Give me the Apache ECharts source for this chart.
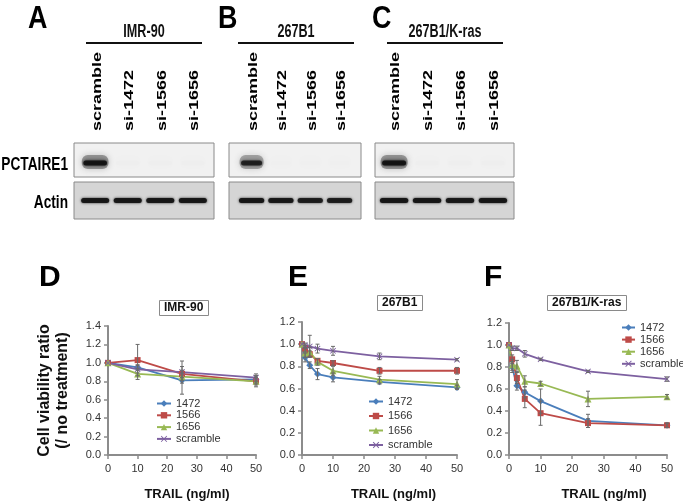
<!DOCTYPE html>
<html><head><meta charset="utf-8">
<script src="https://cdn.jsdelivr.net/npm/echarts@6/dist/echarts.min.js"></script>
<style>html,body{margin:0;padding:0;background:#fff}#c{width:683px;height:501px}</style>
</head><body><div id="c"></div>
<script>
// ---------- Western blot data ----------
const lanes = ['scramble', 'si-1472', 'si-1566', 'si-1656'];
const blotCellLines = ['IMR-90', '267B1', '267B1/K-ras'];
const blotRows = ['PCTAIRE1', 'Actin'];
const pctaireA = [1.00, 0.008, 0.008, 0.008];
const pctaireB = [0.85, 0.005, 0.006, 0.006];
const pctaireC = [1.00, 0.008, 0.008, 0.008];
const actinA = [0.95, 0.95, 0.95, 0.95];
const actinB = [0.95, 0.92, 0.88, 0.88];
const actinC = [0.95, 0.95, 0.93, 0.95];

// ---------- Viability data ----------
const seriesNames = ['1472', '1566', '1656', 'scramble'];
const chartTitles = ['IMR-90', '267B1', '267B1/K-ras'];
const xTicks = [0, 10, 20, 30, 40, 50];
const doseD = [0, 10, 25, 50];
const imr1472 = [1.00, 0.95, 0.81, 0.82];
const imr1566 = [1.00, 1.03, 0.88, 0.80];
const imr1656 = [1.00, 0.88, 0.85, 0.80];
const imrScr  = [1.00, 0.93, 0.90, 0.84];
const imr1472Err = [0, 0.03, 0.15, 0.04];
const imr1566Err = [0, 0.17, 0.04, 0.06];
const imr1656Err = [0, 0.06, 0.04, 0.04];
const imrScrErr  = [0, 0.04, 0.12, 0.04];

const doseEF = [0, 1, 2.5, 5, 10, 25, 50];
const b1472 = [1.00, 0.88, 0.81, 0.73, 0.70, 0.66, 0.61];
const b1566 = [1.00, 0.96, 0.91, 0.85, 0.83, 0.76, 0.76];
const b1656 = [1.00, 0.92, 0.93, 0.84, 0.76, 0.68, 0.64];
const bScr  = [1.00, 0.99, 0.98, 0.96, 0.94, 0.89, 0.86];
const b1472Err = [0, 0.04, 0.03, 0.05, 0.04, 0.02, 0.02];
const b1566Err = [0, 0.03, 0.03, 0.02, 0.02, 0.03, 0.03];
const b1656Err = [0, 0.04, 0.04, 0.03, 0.04, 0.03, 0.04];
const bScrErr  = [0, 0.02, 0.10, 0.04, 0.04, 0.03, 0.01];

const k1472 = [1.00, 0.80, 0.63, 0.57, 0.49, 0.31, 0.27];
const k1566 = [1.00, 0.87, 0.70, 0.51, 0.38, 0.29, 0.27];
const k1656 = [1.00, 0.82, 0.81, 0.67, 0.65, 0.51, 0.53];
const kScr  = [1.00, 0.97, 0.97, 0.92, 0.87, 0.76, 0.69];
const k1472Err = [0, 0.05, 0.04, 0.05, 0.11, 0.06, 0.02];
const k1566Err = [0, 0.04, 0.05, 0.08, 0.11, 0.04, 0.02];
const k1656Err = [0, 0.05, 0.05, 0.05, 0.02, 0.07, 0.02];
const kScrErr  = [0, 0.02, 0.02, 0.03, 0.01, 0.01, 0.02];

// ---------- styles / layout ----------
const FONT = '"Liberation Sans", Arial, Helvetica, sans-serif';
const X_PATH = 'path://M1,0L5,4L9,0L10,1L6,5L10,9L9,10L5,6L1,10L0,9L4,5L0,1Z';
const seriesStyle = {
  '1472': {color: '#4A7EBB', symbol: 'diamond', size: 7},
  '1566': {color: '#BE4B48', symbol: 'rect', size: 6},
  '1656': {color: '#98B954', symbol: 'triangle', size: 7},
  'scramble': {color: '#7D60A0', symbol: X_PATH, size: 6}
};

const blotPanels = [
  {letter: 'A', pct: pctaireA, act: actinA, left: 74, width: 140, min: -0.65, max: 3.65, titleX: 144, lineL: 86, lineR: 202, letterX: 28},
  {letter: 'B', pct: pctaireB, act: actinB, left: 229, width: 132, min: -0.77, max: 3.73, titleX: 296, lineL: 238, lineR: 354, letterX: 218},
  {letter: 'C', pct: pctaireC, act: actinC, left: 375, width: 139, min: -0.58, max: 3.64, titleX: 445, lineL: 387, lineR: 503, letterX: 372}
];

const chartPanels = [
  {letter: 'D', letterX: 39, grid: {left: 108, top: 326, width: 148, height: 129}, ymax: 1.4, dose: doseD,
   vals: [imr1472, imr1566, imr1656, imrScr], errs: [imr1472Err, imr1566Err, imr1656Err, imrScrErr],
   legend: {left: 156, top: 398, gap: 0.8, iw: 14}, titleBox: {left: 159, top: 300}, nameShift: 10},
  {letter: 'E', letterX: 288, grid: {left: 302, top: 322, width: 155, height: 133}, ymax: 1.2, dose: doseEF,
   vals: [b1472, b1566, b1656, bScr], errs: [b1472Err, b1566Err, b1656Err, bScrErr],
   legend: {left: 368, top: 396, gap: 3.5, iw: 14}, titleBox: {left: 377, top: 295}, nameShift: 28},
  {letter: 'F', letterX: 484, grid: {left: 509, top: 323, width: 158, height: 132}, ymax: 1.2, dose: doseEF,
   vals: [k1472, k1566, k1656, kScr], errs: [k1472Err, k1566Err, k1656Err, kScrErr],
   legend: {left: 621, top: 322, gap: 1.1, iw: 13}, titleBox: {left: 547, top: 295}, nameShift: 32}
];

function pctBand(params, api) {
  const a = api.value(2);
  const p = api.coord([api.value(0), 0]);
  const w = api.size([0.82, 0])[0];
  return {type: 'group', children: [
    {type: 'rect', shape: {x: p[0] - w / 2, y: p[1] - 5, width: w, height: 14, r: 6},
     style: {fill: 'rgba(60,60,60,' + (0.45 * a) + ')', shadowBlur: 6, shadowColor: 'rgba(60,60,60,' + (0.6 * a) + ')'}},
    {type: 'rect', shape: {x: p[0] - w / 2 + 1.5, y: p[1] + 0.5, width: w - 3, height: 5, r: 2.5},
     style: {fill: 'rgba(15,15,15,' + (0.9 * a) + ')', shadowBlur: 3, shadowColor: 'rgba(0,0,0,' + (0.8 * a) + ')'}}
  ]};
}
function actBand(params, api) {
  const a = api.value(2);
  const p = api.coord([api.value(0), 0]);
  const w = api.size([0.86, 0])[0];
  return {type: 'rect', shape: {x: p[0] - w / 2, y: p[1] - 2.5, width: w, height: 5, r: 2.5},
    style: {fill: 'rgba(20,20,20,' + a + ')', shadowBlur: 2.5, shadowColor: 'rgba(20,20,20,' + a + ')'}};
}
function errBar(params, api) {
  const x = api.value(0), y = api.value(1), e = api.value(2);
  if (!e) return null;
  const t = api.coord([x, y + e]), b = api.coord([x, y - e]);
  const st = {stroke: '#6a6a6a', lineWidth: 1};
  return {type: 'group', children: [
    {type: 'line', shape: {x1: t[0], y1: t[1], x2: b[0], y2: b[1]}, style: st},
    {type: 'line', shape: {x1: t[0] - 2, y1: t[1], x2: t[0] + 2, y2: t[1]}, style: st},
    {type: 'line', shape: {x1: b[0] - 2, y1: b[1], x2: b[0] + 2, y2: b[1]}, style: st}
  ]};
}

const grids = [], xAxes = [], yAxes = [], series = [], legends = [], titles = [];
blotPanels.forEach((p, k) => {
  [[p.pct, 143, 34, '#f1f1f1', pctBand], [p.act, 182, 37, '#d5d5d5', actBand]].forEach((row, r) => {
    const g = grids.length;
    grids.push({left: p.left, top: row[1], width: p.width, height: row[2], show: true,
      backgroundColor: row[3], borderColor: '#8a8a8a', borderWidth: 1, containLabel: false, outerBoundsMode: 'none'});
    xAxes.push({gridIndex: g, type: 'value', min: p.min, max: p.max, show: false});
    yAxes.push({gridIndex: g, type: 'category', data: [blotRows[r]], show: false});
    series.push({type: 'custom', xAxisIndex: g, yAxisIndex: g, silent: true, renderItem: row[4],
      data: row[0].map((a, i) => [i, 0, a]), z: 3});
  });
});

chartPanels.forEach((c, k) => {
  const g = grids.length;
  grids.push(Object.assign({containLabel: false, outerBoundsMode: 'none'}, c.grid));
  xAxes.push({gridIndex: g, type: 'value', min: xTicks[0], max: xTicks[xTicks.length - 1], interval: xTicks[1] - xTicks[0],
    axisLine: {show: true, lineStyle: {color: '#8c8c8c', width: 2}},
    axisTick: {show: true, length: 4, lineStyle: {color: '#8c8c8c', width: 1.5}},
    axisLabel: {fontSize: 11, color: '#333', margin: 8, fontFamily: FONT},
    splitLine: {show: false},
    name: 'TRAIL (ng/ml)', nameLocation: 'middle', nameGap: 33,
    nameTextStyle: {fontSize: 13, fontWeight: 'bold', color: '#111', fontFamily: FONT, padding: [0, 0, 0, c.nameShift]}});
  const yAx = {gridIndex: g, type: 'value', min: 0, max: c.ymax, interval: 0.2,
    axisLine: {show: true, lineStyle: {color: '#8c8c8c', width: 2}},
    axisTick: {show: true, length: 4, lineStyle: {color: '#8c8c8c', width: 1.5}},
    axisLabel: {fontSize: 11, color: '#333', margin: 7, fontFamily: FONT, formatter: v => v.toFixed(1)},
    splitLine: {show: false}};
  if (k === 0) {
    Object.assign(yAx, {name: 'Cell viability ratio\n(/ no treatment)', nameLocation: 'middle', nameGap: 36,
      nameTextStyle: {fontSize: 16, fontWeight: 'bold', lineHeight: 18, color: '#111', fontFamily: FONT}});
  }
  yAxes.push(yAx);
  seriesNames.forEach((n, i) => {
    const s = seriesStyle[n];
    series.push({type: 'line', name: n, xAxisIndex: g, yAxisIndex: g,
      data: c.dose.map((x, j) => [x, c.vals[i][j]]),
      symbol: s.symbol, symbolSize: s.size, showSymbol: true,
      lineStyle: {color: s.color, width: 1.8}, itemStyle: {color: s.color}, z: 2});
  });
  seriesNames.forEach((n, i) => {
    series.push({type: 'custom', xAxisIndex: g, yAxisIndex: g, silent: true, renderItem: errBar, z: 4,
      data: c.dose.map((x, j) => [x, c.vals[i][j], c.errs[i][j]])});
  });
  legends.push({data: seriesNames, orient: 'vertical', left: c.legend.left, top: c.legend.top, padding: 0,
    itemWidth: c.legend.iw, itemHeight: 8, itemGap: c.legend.gap, selectedMode: false,
    textStyle: {fontSize: 11, color: '#333', fontFamily: FONT}});
  titles.push({text: chartTitles[k], left: c.titleBox.left, top: c.titleBox.top, padding: [2, 5, 2, 5],
    borderColor: '#8a8a8a', borderWidth: 1,
    textStyle: {fontSize: 12, fontWeight: 'bold', color: '#111', fontFamily: FONT}});
});

const chart = echarts.init(document.getElementById('c'));
chart.setOption({
  animation: false,
  textStyle: {fontFamily: FONT},
  title: titles, legend: legends, grid: grids, xAxis: xAxes, yAxis: yAxes, series: series
});

// ---------- static text (blot labels, panel letters) ----------
const gfx = [];
blotPanels.forEach((p, k) => {
  const gPct = k * 2, gAct = k * 2 + 1;
  gfx.push({type: 'text', x: p.letterX, y: 19, scaleX: 0.84, silent: true,
    style: {text: p.letter, font: 'bold 32px ' + FONT, fill: '#000', textAlign: 'left', textVerticalAlign: 'middle'}});
  gfx.push({type: 'text', x: p.titleX, y: 32, scaleX: 0.7, silent: true,
    style: {text: blotCellLines[k], font: 'bold 18px ' + FONT, fill: '#111', textAlign: 'center', textVerticalAlign: 'middle'}});
  gfx.push({type: 'line', silent: true, shape: {x1: p.lineL, y1: 43, x2: p.lineR, y2: 43}, style: {stroke: '#111', lineWidth: 2}});
  lanes.forEach((ln, i) => {
    const px = chart.convertToPixel({gridIndex: gPct}, [i, 0]);
    gfx.push({type: 'text', x: px[0] + 2, y: 131, rotation: Math.PI / 2, scaleY: 0.68, silent: true,
      style: {text: ln, font: 'bold 18px ' + FONT, fill: '#000', textAlign: 'left', textVerticalAlign: 'middle'}});
  });
  if (k === 0) {
    [gPct, gAct].forEach((g, r) => {
      const py = chart.convertToPixel({gridIndex: g}, [0, 0]);
      gfx.push({type: 'text', x: 68, y: py[1] + (r === 0 ? 5 : 2), scaleX: 0.72, silent: true,
        style: {text: blotRows[r], font: 'bold 19px ' + FONT, fill: '#000', textAlign: 'right', textVerticalAlign: 'middle'}});
    });
  }
});
chartPanels.forEach((c) => {
  gfx.push({type: 'text', x: c.letterX, y: 278, silent: true,
    style: {text: c.letter, font: 'bold 30px ' + FONT, fill: '#000', textAlign: 'left', textVerticalAlign: 'middle'}});
});
chart.setOption({graphic: gfx});
</script>
</body></html>
